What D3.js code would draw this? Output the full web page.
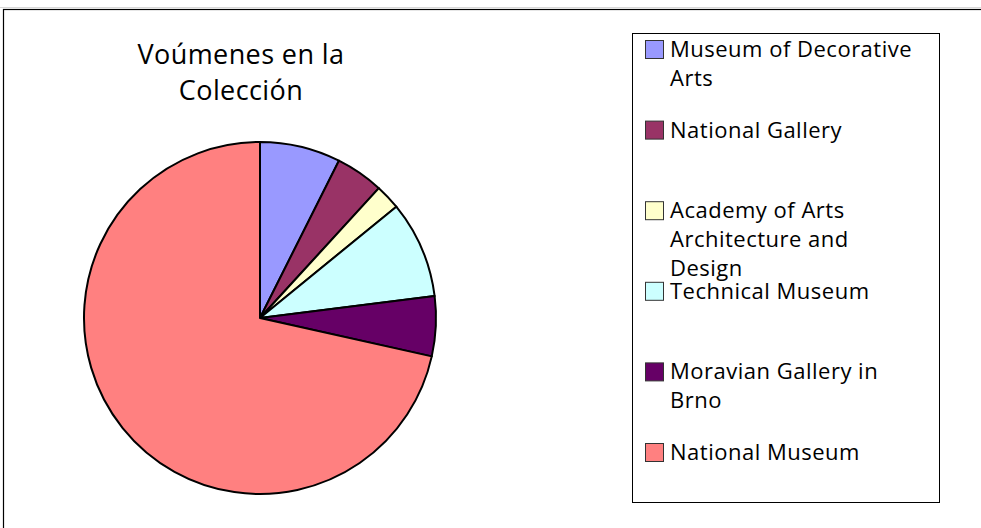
<!DOCTYPE html>
<html>
<head>
<meta charset="utf-8">
<script src="https://cdn.jsdelivr.net/npm/d3@7"></script>
<style>
  body { margin: 0; background: #fff; }
  svg { display: block; font-family: "Open Sans", "Noto Sans", sans-serif; }
</style>
</head>
<body>
<div id="chart"></div>
<script>
// data (share of volumes, %)
const categories = [
    ["Museum of Decorative", "Arts"],
    ["National Gallery"],
    ["Academy of Arts", "Architecture and", "Design"],
    ["Technical Museum"],
    ["Moravian Gallery in", "Brno"],
    ["National Museum"]
];
const values = [7.4, 4.4, 2.3, 8.9, 5.5, 71.5];
const colors = ["#9999ff", "#993366", "#ffffcc", "#ccffff", "#660066", "#ff8080"];
const titleLines = ["Voúmenes en la", "Colección"];

const width = 981, height = 528;

const svg = d3.select('#chart').append('svg')
    .attr('width', width)
    .attr('height', height);

// faint top line + outer frame
svg.append('line')
    .attr('x1', 0).attr('x2', width)
    .attr('y1', 7.5).attr('y2', 7.5)
    .attr('stroke', '#d8d8d8');

svg.append('rect')
    .attr('x', 3.5).attr('y', 9.5)
    .attr('width', width + 10).attr('height', height + 10)
    .attr('fill', 'none')
    .attr('stroke', '#000')
    .attr('stroke-width', 1.2);

// title
svg.append('g')
    .selectAll('text')
    .data(titleLines)
    .enter().append('text')
    .attr('x', 241)
    .attr('y', (d, i) => 64 + i * 36)
    .attr('text-anchor', 'middle')
    .attr('font-size', 27)
    .attr('letter-spacing', 0.4)
    .attr('fill', '#000')
    .text(d => d);

// pie
const pie = d3.pie().sort(null).value(d => d);
const arc = d3.arc().innerRadius(0).outerRadius(176);

const pieG = svg.append('g')
    .attr('transform', 'translate(260,318)');

pieG.selectAll('path')
    .data(pie(values))
    .enter().append('path')
    .attr('d', arc)
    .attr('fill', (d, i) => colors[i])
    .attr('stroke', '#000')
    .attr('stroke-width', 2)
    .attr('stroke-linejoin', 'round');

// legend
const legend = svg.append('g');

legend.append('rect')
    .attr('x', 632.5).attr('y', 33.5)
    .attr('width', 307).attr('height', 469)
    .attr('fill', '#fff')
    .attr('stroke', '#000')
    .attr('stroke-width', 1);

const rowY = d3.scaleLinear().domain([0, 5]).range([40, 443]);

const items = legend.selectAll('g.item')
    .data(categories)
    .enter().append('g')
    .attr('class', 'item')
    .attr('transform', (d, i) => `translate(0,${rowY(i)})`);

items.append('rect')
    .attr('x', 645.5).attr('y', 0.5)
    .attr('width', 18).attr('height', 18)
    .attr('fill', (d, i) => colors[i])
    .attr('stroke', '#333')
    .attr('stroke-width', 1);

items.append('text')
    .attr('x', 670)
    .attr('y', 17)
    .attr('font-size', 22)
    .attr('letter-spacing', 0.5)
    .attr('fill', '#000')
    .selectAll('tspan')
    .data(d => d)
    .enter().append('tspan')
    .attr('x', 670)
    .attr('dy', (d, i) => i === 0 ? 0 : 28.7)
    .text(d => d);
</script>
</body>
</html>
